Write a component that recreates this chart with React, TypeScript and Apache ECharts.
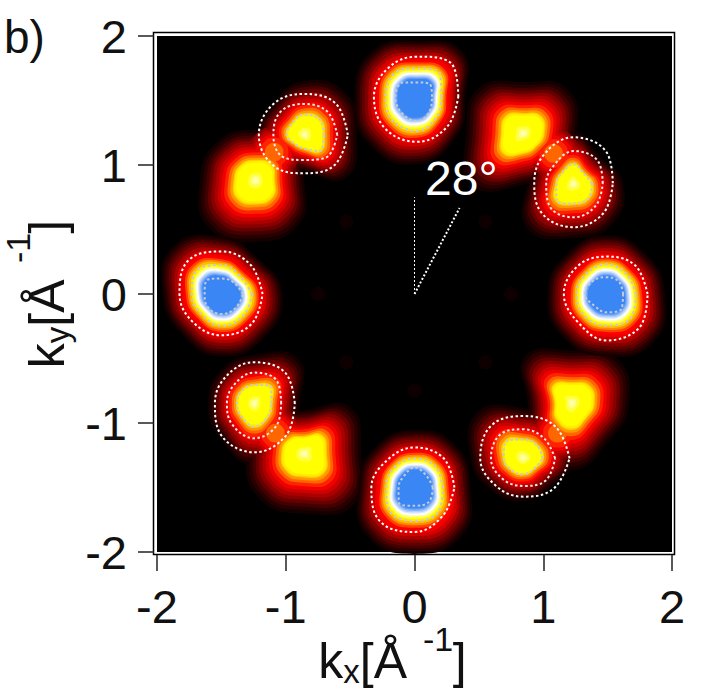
import React, { useEffect, useRef } from "react";
import * as echarts from "echarts";

// All positions are in k-space (inverse angstrom).
const xTicks = [-2, 2];
const strongCenters = [[0.02, 1.53], [1.49, 0.0], [-1.5, 0.0], [0.0, -1.5]];
const strongOuter = [
  [0.32, 0.37, 0.31, 0.315, 0.335, 0.35, 0.35, 0.33],
  [0.32, 0.315, 0.29, 0.31, 0.33, 0.31, 0.36, 0.365],
  [0.32, 0.32, 0.33, 0.365, 0.325, 0.31, 0.32, 0.33],
  [0.31, 0.32, 0.31, 0.3, 0.335, 0.375, 0.345, 0.31],
];
const strongMiddle = [
  [0.19, 0.25, 0.22, 0.25, 0.245, 0.265, 0.265, 0.22],
  [0.23, 0.22, 0.23, 0.22, 0.23, 0.24, 0.245, 0.265],
  [0.24, 0.2, 0.225, 0.265, 0.23, 0.22, 0.245, 0.24],
  [0.22, 0.23, 0.225, 0.22, 0.22, 0.265, 0.26, 0.265],
];
const strongInner = [
  [0.116, 0.14, 0.11, 0.155, 0.168, 0.173, 0.19, 0.145],
  [0.13, 0.137, 0.13, 0.145, 0.168, 0.13, 0.142, 0.165],
  [0.168, 0.13, 0.12, 0.155, 0.13, 0.147, 0.155, 0.155],
  [0.142, 0.13, 0.155, 0.12, 0.124, 0.17, 0.142, 0.158],
];
const mediumCenters = [[1.235, 0.858], [-0.858, 1.233], [-1.245, -0.847], [0.847, -1.274]];
const mediumOuter = [
  [0.305, 0.354, 0.357, 0.32, 0.305, 0.338, 0.34, 0.328],
  [0.34, 0.346, 0.318, 0.338, 0.351, 0.336, 0.297, 0.333],
  [0.315, 0.338, 0.318, 0.302, 0.305, 0.357, 0.38, 0.351],
  [0.357, 0.349, 0.328, 0.357, 0.336, 0.302, 0.297, 0.331],
];
const mediumMiddle = [
  [0.227, 0.258, 0.25, 0.207, 0.212, 0.258, 0.264, 0.245],
  [0.258, 0.256, 0.24, 0.256, 0.238, 0.238, 0.194, 0.245],
  [0.209, 0.248, 0.238, 0.212, 0.212, 0.238, 0.271, 0.245],
  [0.245, 0.222, 0.225, 0.258, 0.253, 0.227, 0.214, 0.243],
];
const mediumInner = [
  [0.145, 0.111, 0.152, 0.121, 0.134, 0.189, 0.16, 0.165],
  [0.155, 0.173, 0.158, 0.129, 0.134, 0.1, 0.106, 0.176],
  [0.134, 0.183, 0.142, 0.137, 0.134, 0.142, 0.181, 0.15],
  [0.15, 0.147, 0.147, 0.191, 0.155, 0.132, 0.124, 0.116],
];
const plainCenters = [[0.847, 1.245], [-1.233, 0.884], [-0.858, -1.235], [1.222, -0.847]];
const plainShapes = [
  [0.155, 0.183, 0.15, 0.186, 0.168, 0.214, 0.15, 0.137],
  [0.142, 0.165, 0.147, 0.158, 0.163, 0.196, 0.181, 0.181],
  [0.168, 0.191, 0.127, 0.155, 0.168, 0.186, 0.176, 0.209],
  [0.168, 0.186, 0.155, 0.194, 0.129, 0.168, 0.196, 0.155],
];
const bridgeCenters = [[1.08, 1.09], [-1.09, 1.1], [-1.08, -1.08], [1.11, -1.08]];
const bridgeShape = [0.13, 0.13, 0.13, 0.13, 0.13, 0.13, 0.13, 0.13];
const faintSpots = [[-0.53, 0.56], [0.55, 0.56], [-0.75, 0], [0.75, 0], [-0.53, -0.53], [0.55, -0.53], [0, -0.75]];
const guideVertical = [[0, 0], [0, 0.75]];
const guideSlanted = [[0, 0], [0.35, 0.667]];

const strongLevels: [number, string][] = [
  [1.98, "#140000"], [1.9, "#280000"], [1.82, "#420000"], [1.74, "#600000"], [1.65, "#800000"], [1.55, "#aa0000"],
  [1.45, "#d40000"], [1.35, "#f00000"], [1.27, "#ff0000"], [1.2, "#ff4400"], [1.13, "#ff8800"], [1.07, "#ffbb00"],
  [1.0, "#ffee00"], [0.93, "#ffff33"], [0.88, "#ffff99"], [0.83, "#ffffff"], [0.78, "#ddeafd"],
  [0.74, "#b5d0fc"], [0.7, "#8cb6fa"], [0.66, "#5f9bf7"], [0.62, "#3a86f5"],
];
// factor for a peak, colour, factor for the faint bridge between a pair of peaks (0 = none)
const mediumLevels: [number, string, number][] = [
  [2.65, "#140000", 0], [2.5, "#280000", 0], [2.35, "#420000", 0], [2.2, "#660000", 0], [2.05, "#880000", 1.5],
  [1.9, "#aa0000", 1.35], [1.75, "#cc0000", 1.2], [1.6, "#f00000", 1.05], [1.45, "#ff2200", 0.85],
  [1.3, "#ff6600", 0.55], [1.17, "#ff9900", 0], [1.06, "#ffcc00", 0], [1.0, "#ffee00", 0],
  [0.9, "#ffff00", 0], [0.35, "#ffff44", 0], [0.2, "#ffff88", 0], [0.1, "#ffffbb", 0],
];

function ring(c: number[], radii: number[], f = 1) {
  return radii.map((r, i) => [
    c[0] + r * f * Math.cos((i * Math.PI) / 4),
    c[1] + r * f * Math.sin((i * Math.PI) / 4),
  ]);
}

type Layer = { c: number[]; r: number[]; f: number; color: string };

function peakSeries(layers: Layer[], z: number) {
  return {
    type: "custom",
    coordinateSystem: "cartesian2d",
    silent: true,
    z,
    data: layers.map((l) => [l.c[0], l.c[1]]),
    renderItem: (params: any, api: any) => {
      const l = layers[params.dataIndex];
      return {
        type: "polygon",
        shape: { points: ring(l.c, l.r, l.f).map((p) => api.coord(p)), smooth: 0.5 },
        style: { fill: l.color },
      };
    },
  };
}

function contourSeries(c: number[], r: number[], color: string, width: number, dash: number[]) {
  const pts = ring(c, r);
  return {
    type: "line",
    data: [...pts, pts[0]],
    smooth: 0.4,
    showSymbol: false,
    silent: true,
    z: 20,
    lineStyle: { color, width, type: dash },
  };
}

export default function App() {
  const ref = useRef<HTMLDivElement>(null);
  useEffect(() => {
    const chart = echarts.init(ref.current!, undefined, { renderer: "svg" });
    const strongLayers: Layer[] = [];
    strongLevels.forEach(([f, color]) => {
      strongCenters.forEach((c, i) => strongLayers.push({ c, r: strongMiddle[i], f, color }));
    });
    const mediumLayers: Layer[] = [];
    mediumLevels.forEach(([f, color, bf]) => {
      mediumCenters.forEach((c, i) => mediumLayers.push({ c, r: mediumInner[i], f, color }));
      plainCenters.forEach((c, i) => mediumLayers.push({ c, r: plainShapes[i], f, color }));
      if (bf > 0) bridgeCenters.forEach((c) => mediumLayers.push({ c, r: bridgeShape, f: bf, color }));
    });
    const contours: any[] = [];
    strongCenters.forEach((c, i) => {
      contours.push(contourSeries(c, strongOuter[i], "#ffffff", 2, [2.5, 2.5]));
      contours.push(contourSeries(c, strongMiddle[i], "#c6cad2", 2.2, [2.5, 3]));
      contours.push(contourSeries(c, strongInner[i], "#c6cad2", 2, [2.5, 2.5]));
    });
    mediumCenters.forEach((c, i) => {
      contours.push(contourSeries(c, mediumOuter[i], "#ffffff", 2, [2.5, 2.5]));
      contours.push(contourSeries(c, mediumMiddle[i], "#ececf0", 2, [2.5, 2.5]));
      contours.push(contourSeries(c, mediumInner[i], "#c6cad2", 2.2, [2.5, 2.5]));
    });
    const tickFont = { fontFamily: "Liberation Sans", fontSize: 47, color: "#111" };
    const nameRich = {
      k: { fontFamily: "Liberation Sans", fontSize: 50, color: "#111" },
      s: { fontFamily: "Liberation Sans", fontSize: 33, color: "#111", padding: [22, 0, 0, 0] },
      g: { fontFamily: "Liberation Sans", fontSize: 50, color: "#111", padding: [0, 32, 0, 0] },
    };
    const supFont = { text: "-1", fontFamily: "Liberation Sans", fontSize: 34, fill: "#111" };
    const axisBase = {
      type: "value",
      min: xTicks[0],
      max: xTicks[1],
      interval: 1,
      offset: 3,
      splitLine: { show: false },
      axisLine: { show: false, onZero: false },
      axisTick: { show: true, length: 16, lineStyle: { color: "#222", width: 1.5 } },
      nameLocation: "middle",
    };
    chart.setOption({
      animation: false,
      grid: { left: 157, right: 50, top: 36, bottom: 145, show: true, backgroundColor: "#000", borderWidth: 0, outerBoundsMode: "none" },
      xAxis: {
        ...axisBase,
        axisLabel: { ...tickFont, margin: 28 },
        name: "{k|k}{s|x}{k|[Å}{g| }{k|]}",
        nameGap: 78,
        nameTextStyle: { rich: nameRich, padding: [0, 44, 0, 0] },
      },
      yAxis: {
        ...axisBase,
        axisLabel: { ...tickFont, margin: 27 },
        name: "{k|k}{s|y}{k|[Å}{g| }{k|]}",
        nameGap: 73,
        nameRotate: 90,
        nameTextStyle: { rich: nameRich },
      },
      graphic: [
        {
          type: "rect",
          z: -1,
          shape: { x: 153.5, y: 32.5, width: 521, height: 522 },
          style: { fill: "#fff", stroke: "#000", lineWidth: 1.5 },
        },
        {
          type: "text",
          x: 4,
          y: 14,
          style: { text: "b)", fontFamily: "Liberation Sans", fontSize: 46, fill: "#111" },
        },
        {
          type: "text",
          x: 425,
          y: 154,
          z: 30,
          style: { text: "28°", fontFamily: "Liberation Sans", fontSize: 48, fill: "#fff" },
        },
        { type: "text", x: 423, y: 622, style: supFont },
        { type: "text", x: 1, y: 263, rotation: Math.PI / 2, style: supFont },
      ],
      series: [
        {
          type: "scatter",
          data: faintSpots,
          symbolSize: 14,
          silent: true,
          z: 2,
          itemStyle: { color: "#120000" },
        },
        peakSeries(mediumLayers, 3),
        peakSeries(strongLayers, 5),
        ...contours,
        {
          type: "line",
          data: guideVertical,
          showSymbol: false,
          silent: true,
          z: 21,
          lineStyle: { color: "#fff", width: 1, type: [2, 2] },
        },
        {
          type: "line",
          data: guideSlanted,
          showSymbol: false,
          silent: true,
          z: 21,
          lineStyle: { color: "#fff", width: 2, type: [2, 2] },
        },
      ],
    });
    return () => chart.dispose();
  }, []);
  return <div ref={ref} style={{ position: "fixed", left: 0, top: 0, width: 722, height: 697, background: "#fff" }} />;
}
